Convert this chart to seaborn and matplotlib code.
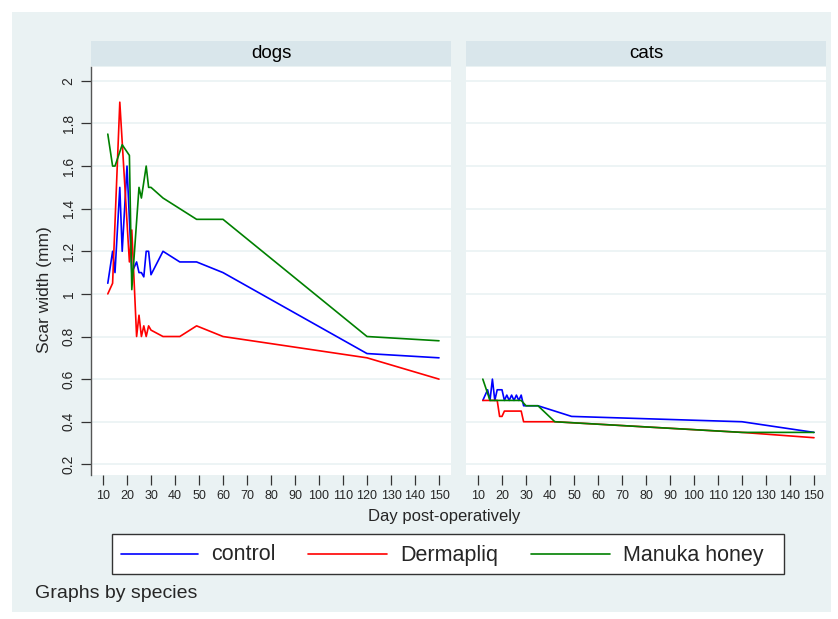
import matplotlib
matplotlib.use("Agg")
import matplotlib.pyplot as plt
import seaborn as sns
import pandas as pd
from matplotlib.patches import Rectangle
from matplotlib.lines import Line2D

# ---- data ----
treatments = ["control", "Dermapliq", "Manuka honey"]
species = ["dogs", "cats"]

dogs_control_day = [12, 14, 15, 17, 18, 20, 22, 24, 25, 26, 27, 28, 29, 30, 35, 42, 49, 60, 120, 150]
dogs_control_val = [1.05, 1.2, 1.1, 1.5, 1.2, 1.6, 1.1, 1.15, 1.1, 1.1, 1.08, 1.2, 1.2, 1.09, 1.2, 1.15, 1.15, 1.1, 0.72, 0.70]

dogs_derm_day = [12, 14, 17, 21, 22, 24, 25, 26, 27, 28, 29, 30, 35, 42, 49, 60, 120, 150]
dogs_derm_val = [1.0, 1.05, 1.9, 1.15, 1.3, 0.8, 0.9, 0.8, 0.85, 0.8, 0.85, 0.83, 0.8, 0.8, 0.85, 0.8, 0.7, 0.6]

dogs_manuka_day = [12, 14, 15, 18, 21, 22, 25, 26, 28, 29, 30, 35, 49, 60, 120, 150]
dogs_manuka_val = [1.75, 1.6, 1.6, 1.7, 1.65, 1.02, 1.5, 1.45, 1.6, 1.5, 1.5, 1.45, 1.35, 1.35, 0.8, 0.78]

cats_control_day = [12, 14, 15, 16, 17, 18, 20, 21, 22, 23, 24, 25, 26, 27, 28, 29, 35, 49, 120, 150]
cats_control_val = [0.5, 0.55, 0.5, 0.6, 0.5, 0.55, 0.55, 0.5, 0.525, 0.5, 0.525, 0.5, 0.525, 0.5, 0.525, 0.475, 0.475, 0.425, 0.4, 0.35]

cats_derm_day = [12, 18, 19, 20, 21, 28, 29, 35, 42, 120, 150]
cats_derm_val = [0.5, 0.5, 0.425, 0.425, 0.45, 0.45, 0.4, 0.4, 0.4, 0.35, 0.325]

cats_manuka_day = [12, 15, 28, 30, 35, 42, 120, 150]
cats_manuka_val = [0.6, 0.5, 0.5, 0.475, 0.475, 0.4, 0.35, 0.35]

x_ticks = list(range(10, 151, 10))
y_ticks = [0.2, 0.4, 0.6, 0.8, 1.0, 1.2, 1.4, 1.6, 1.8, 2.0]
y_tick_labels = ["0.2", "0.4", "0.6", "0.8", "1", "1.2", "1.4", "1.6", "1.8", "2"]

colors = {"control": "#0000FF", "Dermapliq": "#FF0000", "Manuka honey": "#008000"}

series = {
    ("dogs", "control"): (dogs_control_day, dogs_control_val),
    ("dogs", "Dermapliq"): (dogs_derm_day, dogs_derm_val),
    ("dogs", "Manuka honey"): (dogs_manuka_day, dogs_manuka_val),
    ("cats", "control"): (cats_control_day, cats_control_val),
    ("cats", "Dermapliq"): (cats_derm_day, cats_derm_val),
    ("cats", "Manuka honey"): (cats_manuka_day, cats_manuka_val),
}
rows = []
for (sp, tr), (days, vals) in series.items():
    for d, v in zip(days, vals):
        rows.append({"species": sp, "treatment": tr, "day": d, "width": v})
df = pd.DataFrame(rows)

# ---- figure ----
sns.set_theme(style="white")
plt.rcParams["font.family"] = ["Liberation Sans", "DejaVu Sans"]

W, H = 838, 619
fig = plt.figure(figsize=(W / 100, H / 100), dpi=100)
fig.patch.set_facecolor("white")

BG = "#EAF2F3"
STRIP = "#D9E6EB"
GRID = "#EAF2F3"
LW = 1.2


def fx(px):
    return px / W


def fy(py):
    return 1 - py / H


# outer graph region
fig.add_artist(Rectangle((fx(12), fy(612)), (831 - 12) / W, (612 - 12) / H,
                         transform=fig.transFigure, facecolor=BG, edgecolor="none", zorder=0))

panels = {"dogs": 91, "cats": 466}
pw = 360
ptop, pbot = 67, 475
stop = 41

for sp, x0 in panels.items():
    ax = fig.add_axes([fx(x0), fy(pbot), pw / W, (pbot - ptop) / H])
    ax.set_facecolor("white")
    sub = df[df["species"] == sp]
    sns.lineplot(data=sub, x="day", y="width", hue="treatment", hue_order=treatments,
                 palette=colors, estimator=None, sort=True, linewidth=LW, ax=ax, legend=False)
    ax.set_xlim(5, 155)
    ax.set_ylim(0.15, 2.065)
    ax.set_yticks(y_ticks)
    ax.yaxis.grid(True, color=GRID, linewidth=1.2)
    ax.set_axisbelow(True)
    ax.set_xticks(x_ticks)
    ax.set_xticklabels([str(t) for t in x_ticks], fontsize=9)
    ax.tick_params(axis="x", direction="out", length=7, width=0.9, color="#333333", pad=4, bottom=True)
    for s in ["top", "right", "bottom"]:
        ax.spines[s].set_visible(False)
    ax.set_xlabel("")
    ax.set_ylabel("")
    if sp == "dogs":
        ax.spines["left"].set_visible(True)
        ax.spines["left"].set_color("#555555")
        ax.spines["left"].set_linewidth(1.0)
        ax.set_yticklabels(y_tick_labels, fontsize=10, rotation=90, va="center")
        ax.tick_params(axis="y", direction="out", length=7, width=0.9, color="#333333", pad=4, left=True)
    else:
        ax.spines["left"].set_visible(False)
        ax.set_yticklabels([])
        ax.tick_params(axis="y", length=0)
    # strip
    sax = fig.add_axes([fx(x0), fy(ptop - 1), pw / W, (ptop - 1 - stop) / H])
    sax.set_facecolor(STRIP)
    sax.set_xticks([])
    sax.set_yticks([])
    for s in sax.spines.values():
        s.set_visible(False)
    sax.text(0.5, 0.5, sp, ha="center", va="center", fontsize=13.5, color="black",
             transform=sax.transAxes)

fig.text(fx(45), fy(290), "Scar width (mm)", rotation=90, ha="center", va="center", fontsize=12.5)
fig.text(fx(444), fy(517), "Day post-operatively", ha="center", va="center", fontsize=12)

# legend (drawn as a boxed key below the panels)
fig.add_artist(Rectangle((fx(112), fy(574)), (784 - 112) / W, (574 - 534) / H,
                         transform=fig.transFigure, facecolor="white", edgecolor="#333333",
                         linewidth=1.0, zorder=3))
key_line_x = {"control": (121, 198), "Dermapliq": (308, 387), "Manuka honey": (531, 610)}
key_text_x = {"control": 211, "Dermapliq": 400, "Manuka honey": 623}
for t in treatments:
    x1, x2 = key_line_x[t]
    fig.add_artist(Line2D([fx(x1), fx(x2)], [fy(554), fy(554)], transform=fig.transFigure,
                          color=colors[t], linewidth=LW, zorder=4))
    fig.text(fx(key_text_x[t]), fy(555), t, ha="left", va="center", fontsize=15.5, zorder=4)

fig.text(fx(35), fy(593), "Graphs by species", ha="left", va="center", fontsize=14)

fig.savefig("out.png", dpi=100, facecolor="white")
